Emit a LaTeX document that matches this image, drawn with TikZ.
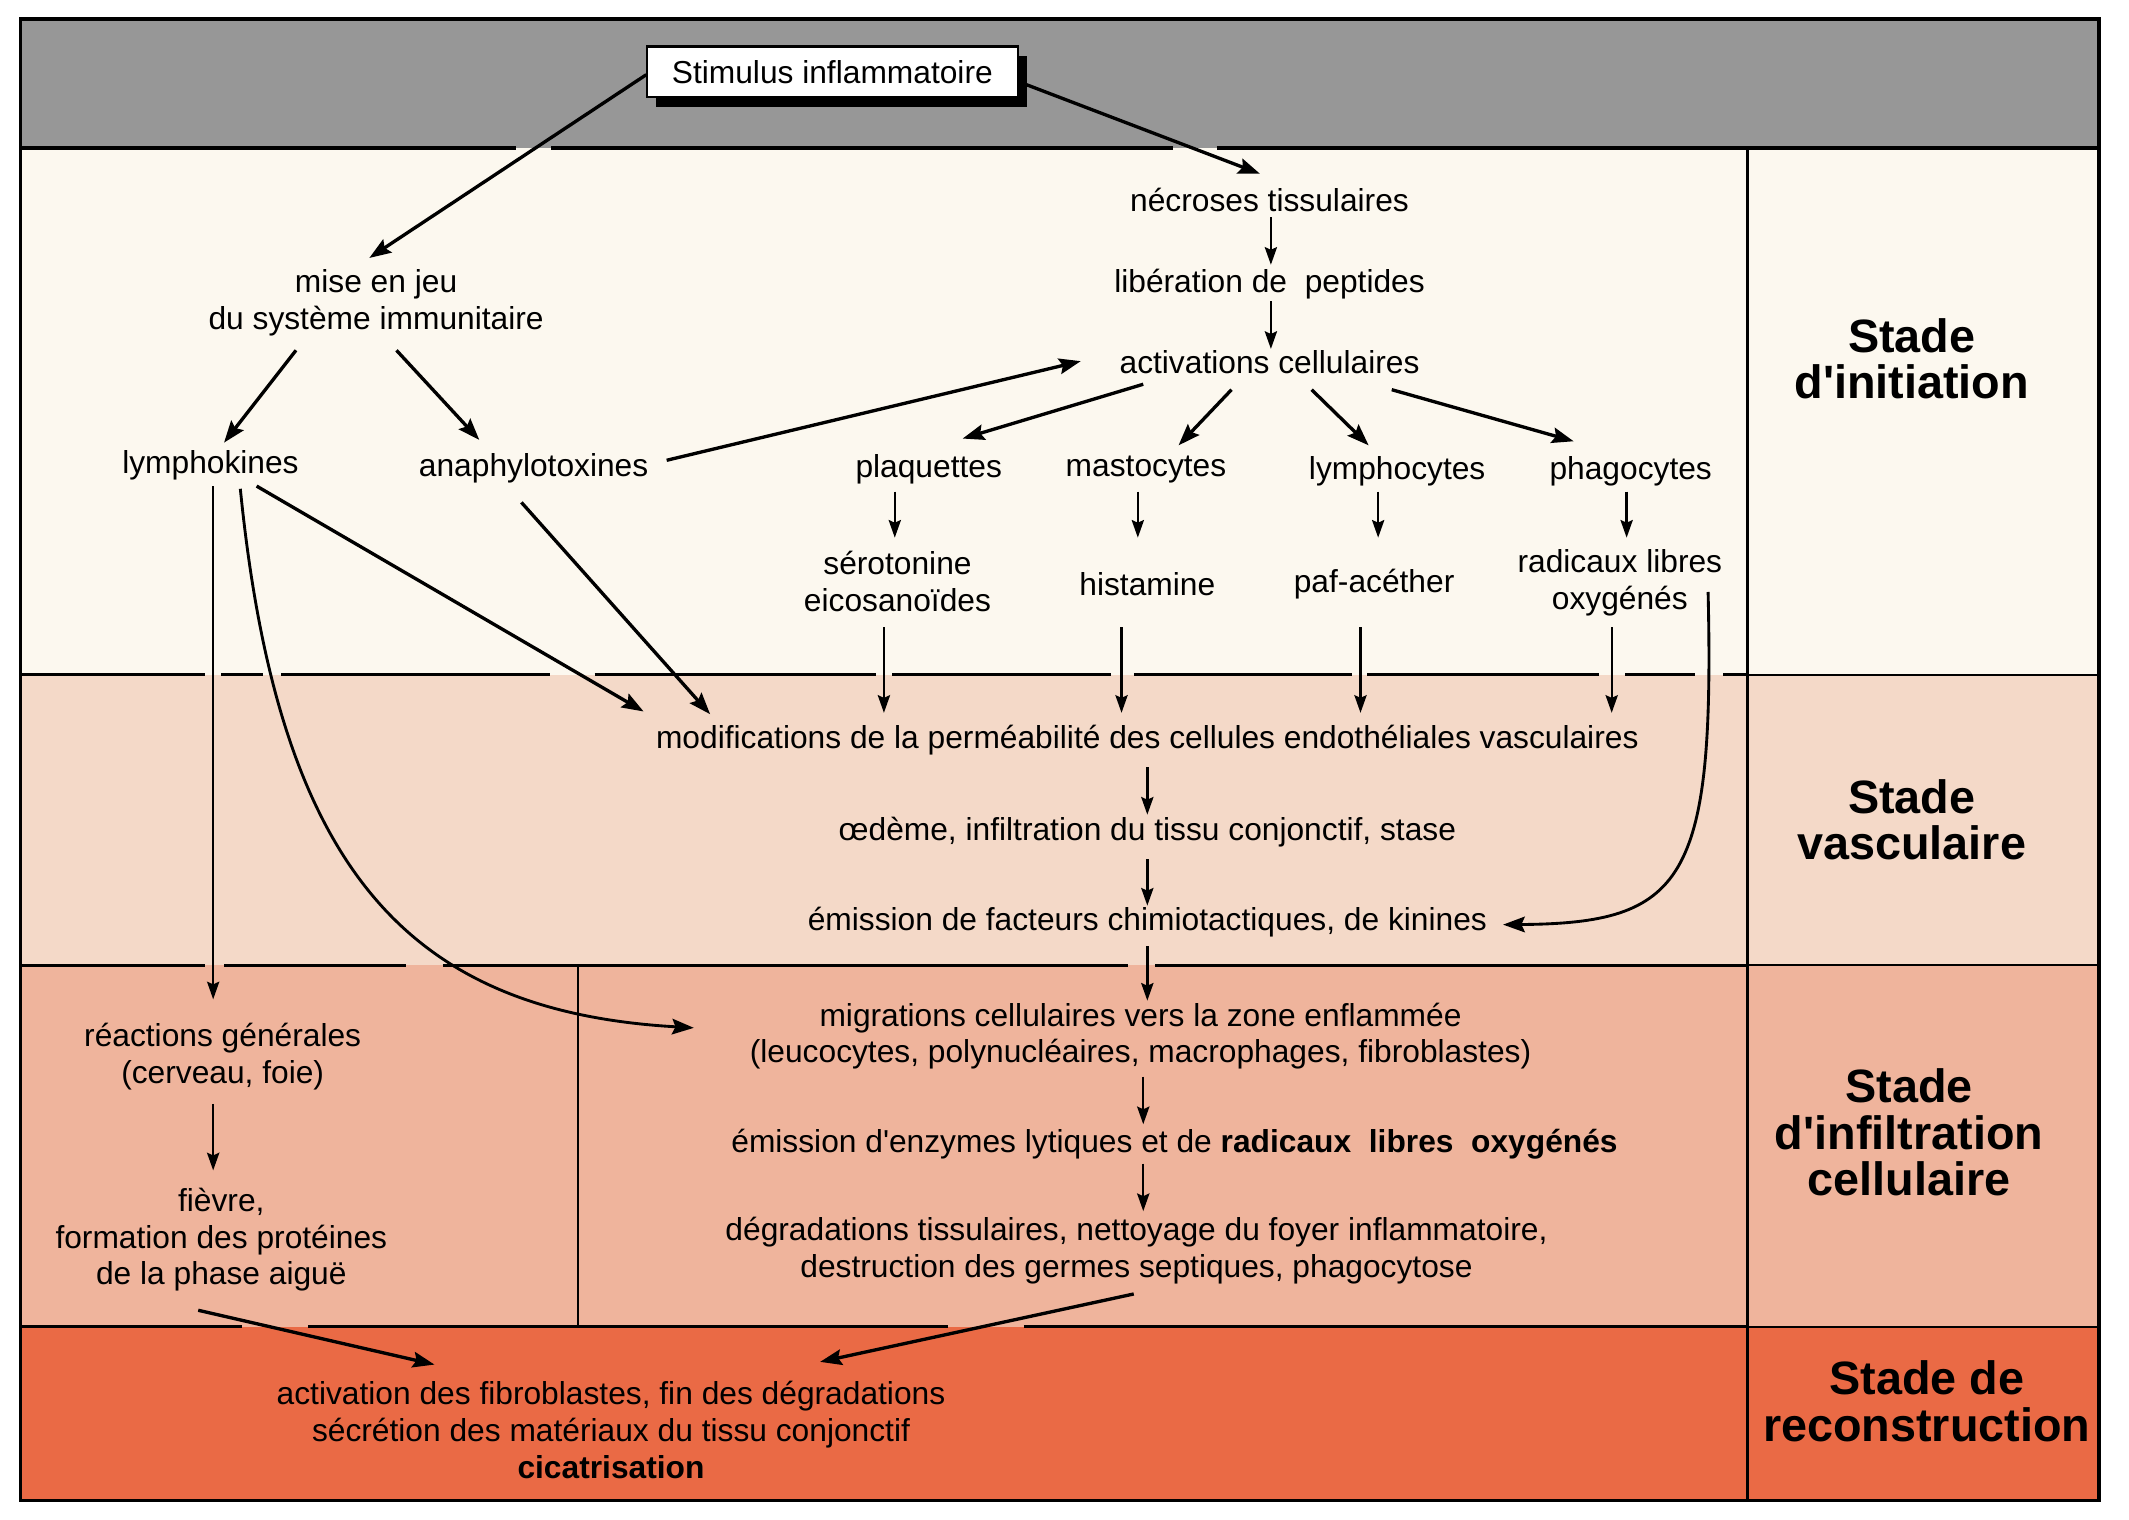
\documentclass[tikz,border=0pt]{standalone}
\usepackage{fontspec}
\setmainfont{Liberation Sans}
\usetikzlibrary{arrows.meta,shadows}

\definecolor{trame}{HTML}{979797}
\definecolor{creme}{HTML}{FCF8EF}
\definecolor{rosepale}{HTML}{F4D9C8}
\definecolor{saumon}{HTML}{EFB49C}
\definecolor{orangerouge}{HTML}{EA6A45}

\newcommand{\corps}{\fontsize{13.3}{15.4}\selectfont}
\newcommand{\titre}{\fontsize{19.6}{19.4}\selectfont\bfseries}
\newcommand{\apos}{\textquotesingle}

\begin{document}
\begin{tikzpicture}[x=0.2mm,y=-0.2mm,
    fl/.style={-{Stealth[length=3.2mm,width=2.3mm,inset=0.5mm]},line width=1.4pt},
    fv/.style={-{Stealth[length=2.6mm,width=1.8mm,inset=0.4mm]},line width=1pt}]

  \useasboundingbox (0,0) rectangle (1568,1119);

  % bandes
  \fill[trame] (15,14) rectangle (1546,109);
  \fill[creme] (15,109) rectangle (1546,497);
  \fill[rosepale] (15,497) rectangle (1546,711);
  \fill[saumon] (15,711) rectangle (1546,977);
  \fill[orangerouge] (15,977) rectangle (1546,1105);

  % limites, coupees au passage des fleches
  \begin{scope}[line width=1.4pt]
    \foreach \a/\b in {15/380,406/864,896/1546} \draw (\a,109) -- (\b,109);
    \foreach \a/\b in {15/151,163/194,207/405,438/645,657/818,835/996,1007/1178,1197/1248,1269/1287} \draw (\a,497) -- (\b,497);
    \foreach \a/\b in {15/151,165/299,326/831,851/1287} \draw (\a,711) -- (\b,711);
    \foreach \a/\b in {15/178,227/698,754/1287} \draw (\a,977) -- (\b,977);
  \end{scope}
  \draw[line width=1pt] (1287,109) -- (1287,1105);
  \draw[line width=0.8pt] (1287,497) -- (1546,497) (1287,711) -- (1546,711) (1287,977) -- (1546,977);
  \draw[line width=0.8pt] (426,711) -- (426,977);
  \draw[line width=1.4pt] (15,14) rectangle (1546,1105);

  \begin{scope}[every node/.style={align=center, inner sep=1pt, font=\corps}]
    \node[draw, fill=white, line width=0.9pt, minimum width=54.6mm, minimum height=7.5mm,
      drop shadow={fill=black, opacity=1, shadow xshift=1.4mm, shadow yshift=-1.4mm}]
      (stim) at (613,53) {Stimulus inflammatoire};
    \node (necr)  at (935,147) {nécroses tissulaires};
    \node (lib)   at (935,209) {libération de~ peptides};
    \node (activ) at (935,267) {activations cellulaires};
    \node (mise)  at (277,223) {mise en jeu\\du système immunitaire};
    \node (lymk)  at (155,343) {lymphokines};
    \node (anaph) at (393,345) {anaphylotoxines};
    \node (plaq)  at (684,346) {plaquettes};
    \node (masto) at (844,346) {mastocytes};
    \node (lymc)  at (1029,347) {lymphocytes};
    \node (phago) at (1201,347) {phagocytes};
    \node (sero)  at (661,428) {sérotonine\\eicosanoïdes};
    \node (hist)  at (845,430) {histamine};
    \node (paf)   at (1012,430) {paf-acéther};
    \node (radic) at (1193,429) {radicaux libres\\oxygénés};
    \node (modif) at (845,545) {modifications de la perméabilité des cellules endothéliales vasculaires};
    \node (oed)   at (845,613) {œdème, infiltration du tissu conjonctif, stase};
    \node (emis)  at (845,679) {émission de facteurs chimiotactiques, de kinines};
    \node (migr)  at (840,763) {migrations cellulaires vers la zone enflammée\\(leucocytes, polynucléaires, macrophages, fibroblastes)};
    \node (enz)   at (865,843) {émission d\apos enzymes lytiques et de \textbf{radicaux~ libres~ oxygénés}};
    \node (degr)  at (837,921) {dégradations tissulaires, nettoyage du foyer inflammatoire,\\destruction des germes septiques, phagocytose};
    \node (react) at (164,778) {réactions générales\\(cerveau, foie)};
    \node (fievre) at (163,913) {fièvre,\\formation des protéines\\de la phase aiguë};
    \node (fibro) at (450,1053) {activation des fibroblastes, fin des dégradations\\sécrétion des matériaux du tissu conjonctif\\\textbf{cicatrisation}};
  \end{scope}

  \begin{scope}[every node/.style={align=center, inner sep=0pt, font=\titre}]
    \node (s1) at (1408,264) {Stade\\d\apos initiation};
    \node (s2) at (1408,604) {Stade\\vasculaire};
    \node (s3) at (1406,834) {Stade\\d\apos infiltration\\cellulaire};
    \node (s4) at (1419,1032) {Stade de\\reconstruction};
  \end{scope}

  % fleches obliques
  \begin{scope}[fl]
    \draw ([shift={(-137,2)}]stim.center) -- ([shift={(-5,-33)}]mise.center);
    \draw ([shift={(142,9)}]stim.center) -- ([shift={(-7,-19)}]necr.center);
    \draw ([shift={(-59,35)}]mise.center) -- ([shift={(10,-17)}]lymk.center);
    \draw ([shift={(15,35)}]mise.center) -- ([shift={(-40,-21)}]anaph.center);
    \draw ([shift={(98,-6)}]anaph.center) -- ([shift={(-139,-1)}]activ.center);
    \draw ([shift={(-93,16)}]activ.center) -- ([shift={(25,-23)}]plaq.center);
    \draw ([shift={(-28,20)}]activ.center) -- ([shift={(24,-18)}]masto.center);
    \draw ([shift={(31,20)}]activ.center) -- ([shift={(-21,-19)}]lymc.center);
    \draw ([shift={(90,20)}]activ.center) -- ([shift={(-42,-22)}]phago.center);
    \draw ([shift={(34,15)}]lymk.center) -- ([shift={(-371,-21)}]modif.center);
    \draw ([shift={(-9,25)}]anaph.center) -- ([shift={(-322,-19)}]modif.center);
    \draw ([shift={(-17,52)}]fievre.center) -- ([shift={(-130,-48)}]fibro.center);
    \draw ([shift={(-2,32)}]degr.center) -- ([shift={(154,-50)}]fibro.center);
  \end{scope}

  % fleches verticales
  \begin{scope}[fv]
    \draw ([shift={(1,13)}]necr.center) -- ([shift={(1,-14)}]lib.center);
    \draw ([shift={(1,13)}]lib.center) -- ([shift={(1,-10)}]activ.center);
    \draw ([shift={(-25,16)}]plaq.center) -- ([shift={(-2,-32)}]sero.center);
    \draw ([shift={(-6,16)}]masto.center) -- ([shift={(-7,-34)}]hist.center);
    \draw ([shift={(-14,15)}]lymc.center) -- ([shift={(3,-34)}]paf.center);
    \draw ([shift={(-3,15)}]phago.center) -- ([shift={(5,-33)}]radic.center);
    \draw ([shift={(-10,34)}]sero.center) -- ([shift={(-194,-20)}]modif.center);
    \draw ([shift={(-19,32)}]hist.center) -- ([shift={(-19,-20)}]modif.center);
    \draw ([shift={(-10,32)}]paf.center) -- ([shift={(157,-20)}]modif.center);
    \draw ([shift={(-6,33)}]radic.center) -- ([shift={(342,-20)}]modif.center);
    \draw ([shift={(0,20)}]modif.center) -- ([shift={(0,-13)}]oed.center);
    \draw ([shift={(0,20)}]oed.center) -- ([shift={(0,-12)}]emis.center);
    \draw ([shift={(0,18)}]emis.center) -- ([shift={(5,-26)}]migr.center);
    \draw ([shift={(2,30)}]migr.center) -- ([shift={(-23,-15)}]enz.center);
    \draw ([shift={(-23,14)}]enz.center) -- ([shift={(5,-29)}]degr.center);
    \draw ([shift={(-7,35)}]react.center) -- ([shift={(-6,-51)}]fievre.center);
    \draw[line width=0.8pt] ([shift={(2,15)}]lymk.center) -- ([shift={(-7,-42)}]react.center);
  \end{scope}

  % fleches courbes
  \begin{scope}[fl, line width=1.2pt]
    \draw ([shift={(22,17)}]lymk.center) .. controls +(28,280) and +(-211,-12) .. ([shift={(-329,-6)}]migr.center);
    \draw ([shift={(65,7)}]radic.center) .. controls +(5,214) and +(133,-1) .. ([shift={(262,2)}]emis.center);
  \end{scope}

\end{tikzpicture}
\end{document}
